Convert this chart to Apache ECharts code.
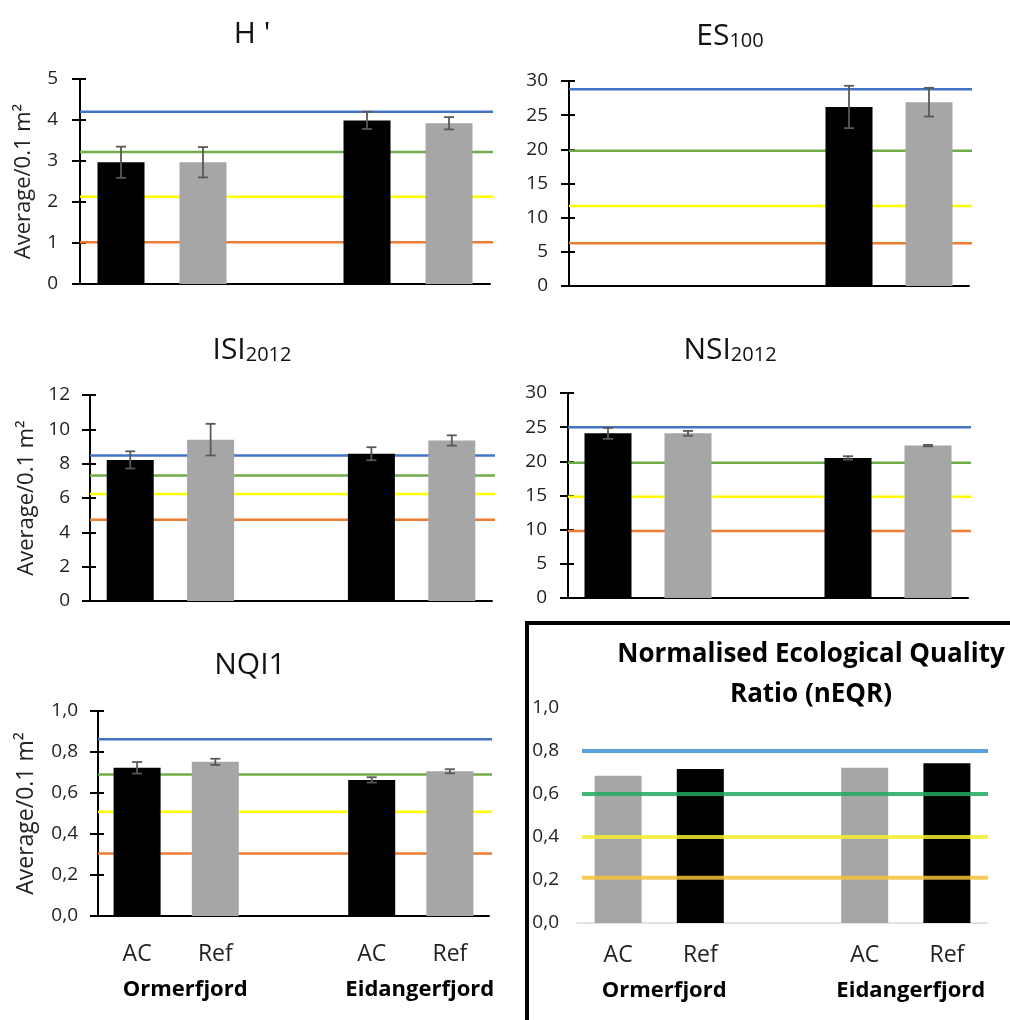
<!DOCTYPE html>
<html>
<head>
<meta charset="utf-8">
<script src="https://cdn.jsdelivr.net/npm/echarts@6/dist/echarts.min.js"></script>
<style>
html, body { margin: 0; padding: 0; background: #fff; }
#main { width: 1010px; height: 1020px; }
</style>
</head>
<body>
<div id="main"></div>
<script>
// categories
const sites = ['AC', 'Ref', '', 'AC', 'Ref'];
const fjords = ['', 'Ormerfjord', '', '', 'Eidangerfjord', ''];

// H'
const hMean = [2.97, 2.97, null, 3.99, 3.92];
const hErr = [0.38, 0.37, null, 0.21, 0.15];
const hLimits = [4.2, 3.22, 2.13, 1.02];

// ES100
const esMean = [null, null, null, 26.2, 26.9];
const esErr = [null, null, null, 3.1, 2.1];
const esLimits = [28.8, 19.8, 11.7, 6.25];

// ISI2012
const isiMean = [8.22, 9.4, null, 8.58, 9.35];
const isiErr = [0.5, 0.92, null, 0.38, 0.3];
const isiLimits = [8.48, 7.31, 6.24, 4.73];

// NSI2012
const nsiMean = [24.1, 24.1, null, 20.5, 22.3];
const nsiErr = [0.8, 0.35, null, 0.25, 0.1];
const nsiLimits = [25.0, 19.8, 14.8, 9.8];

// NQI1
const nqiMean = [0.723, 0.752, null, 0.664, 0.706];
const nqiErr = [0.028, 0.015, null, 0.013, 0.01];
const nqiLimits = [0.862, 0.69, 0.508, 0.305];

// nEQR
const neqrMean = [0.685, 0.716, null, 0.722, 0.743];
const neqrLimits = [0.8, 0.6, 0.4, 0.21];

// y axis ticks
const yMax = [5, 30, 12, 30, 1, 1];
const yStep = [1, 5, 2, 5, 0.2, 0.2];
const yName = 'Average/0.1 m²';

const panels = [
  { title: "{m|H '}", mean: hMean, err: hErr, limits: hLimits },
  { title: '{m|ES}{s|100}', mean: esMean, err: esErr, limits: esLimits },
  { title: '{m|ISI}{s|2012}', mean: isiMean, err: isiErr, limits: isiLimits },
  { title: '{m|NSI}{s|2012}', mean: nsiMean, err: nsiErr, limits: nsiLimits },
  { title: '{m|NQI1}', mean: nqiMean, err: nqiErr, limits: nqiLimits },
  { title: 'Normalised Ecological Quality\nRatio (nEQR)', mean: neqrMean, err: null, limits: neqrLimits }
];

const FONT = 'Open Sans';
const grids = [
  { left: 80, top: 79, width: 410, height: 205 },
  { left: 569, top: 81, width: 400, height: 205 },
  { left: 90, top: 395, width: 402, height: 206 },
  { left: 568, top: 393, width: 400, height: 205 },
  { left: 98, top: 711, width: 391, height: 205 },
  { left: 577, top: 708, width: 411, height: 215 }
];
const titlePos = [[247, 8], [725, 10], [247, 324], [725, 324], [245, 639], [806, 630]];
const labelMargin = [22, 21, 20, 21, 20, 18];
const nameGap = [45, 0, 52, 0, 60, 0];
const limitColors = ['#4472c4', '#70ad47', '#ffff00', '#ed7d31'];
const neqrColors = ['#3d8fd6', '#1faa5c', '#f2ef30', '#f3c13a'];
const BLACK = '#000';
const GREY = '#a6a6a6';

const chart = echarts.init(document.getElementById('main'), null, { renderer: 'canvas' });

const title = [], xAxis = [], yAxis = [], series = [];

const comma = v => v.toFixed(1).replace('.', ',');

panels.forEach((p, i) => {
  const last = i === 5;
  const bottom = i >= 4;
  const colors = last ? neqrColors : limitColors;

  title.push({
    text: p.title,
    left: titlePos[i][0],
    top: titlePos[i][1],
    textAlign: 'center',
    textStyle: last ? {
      fontFamily: FONT, fontSize: 26, fontWeight: 'bold', color: '#000', lineHeight: 40
    } : {
      fontFamily: FONT, fontWeight: 'normal',
      rich: {
        m: { fontFamily: FONT, fontWeight: 'normal', fontSize: 30, color: '#111', lineHeight: 36, verticalAlign: 'bottom' },
        s: { fontFamily: FONT, fontWeight: 'normal', fontSize: 20, color: '#111', lineHeight: 30, verticalAlign: 'bottom' }
      }
    }
  });

  const xi = xAxis.length;
  xAxis.push({
    type: 'category', gridIndex: i, position: 'bottom', data: sites,
    axisLine: { lineStyle: { color: last ? '#d9d9d9' : '#000', width: last ? 1.5 : 2 } },
    axisTick: { show: false },
    axisLabel: { show: bottom, interval: 0, fontFamily: FONT, fontSize: 23, color: '#222', margin: i === 4 ? 27 : 21 }
  });
  if (bottom) {
    xAxis.push({
      type: 'category', gridIndex: i, position: 'bottom', boundaryGap: false, data: fjords,
      axisLine: { show: false }, axisTick: { show: false },
      axisLabel: {
        interval: 0, fontFamily: FONT, fontWeight: 'bold', fontSize: 22, color: '#000',
        margin: i === 4 ? 63 : 57, padding: [0, 0, 0, i === 4 ? 18 : 10]
      }
    });
  }

  const yi = yAxis.length;
  yAxis.push({
    type: 'value', gridIndex: i, position: 'left', min: 0, max: yMax[i], interval: yStep[i],
    name: nameGap[i] ? yName : '',
    nameLocation: 'middle', nameRotate: 90, nameGap: nameGap[i],
    nameTextStyle: { fontFamily: FONT, fontSize: i === 4 ? 23 : 22, color: '#222' },
    splitLine: { show: false },
    axisLine: { show: !last, lineStyle: { color: '#000', width: 2 } },
    axisTick: { show: !last, length: 8, lineStyle: { color: '#000', width: 2 } },
    axisLabel: {
      fontFamily: FONT, fontSize: 19, color: '#222', margin: labelMargin[i],
      formatter: bottom ? comma : null
    }
  });
  if (!last) {
    // inner half of the crossing tick marks
    yAxis.push({
      type: 'value', gridIndex: i, min: 0, max: yMax[i], interval: yStep[i], position: 'left',
      splitLine: { show: false }, axisLine: { show: false }, axisLabel: { show: false },
      axisTick: { show: true, inside: true, length: 6, lineStyle: { color: '#000', width: 2 } }
    });
  }

  series.push({
    type: 'custom', xAxisIndex: xi, yAxisIndex: yi, silent: true, z: last ? 5 : 1,
    data: p.limits.map((v, k) => [0, v, k]),
    encode: { x: 0, y: 1 },
    renderItem: (params, api) => {
      const cs = params.coordSys;
      const y = api.coord([0, api.value(1)])[1];
      return {
        type: 'line',
        shape: { x1: cs.x + (last ? 5 : 0), y1: y, x2: cs.x + cs.width + (last ? 0 : 3), y2: y },
        style: { stroke: colors[api.value(2)], lineWidth: last ? 4 : 2.5, opacity: last ? 0.85 : 1 }
      };
    }
  });

  series.push({
    type: 'bar', xAxisIndex: xi, yAxisIndex: yi, z: 2, barWidth: 47,
    data: p.mean,
    itemStyle: {
      color: params => {
        const ac = sites[params.dataIndex] === 'AC';
        return last ? (ac ? GREY : BLACK) : (ac ? BLACK : GREY);
      }
    }
  });

  if (p.err) {
    const errData = p.mean
      .map((m, k) => (m == null ? null : [k, m, p.err[k]]))
      .filter(d => d);
    series.push({
      type: 'custom', xAxisIndex: xi, yAxisIndex: yi, silent: true, z: 3,
      data: errData,
      encode: { x: 0, y: 1 },
      renderItem: (params, api) => {
        const k = api.value(0), m = api.value(1), e = api.value(2);
        const hi = api.coord([k, m + e]);
        const lo = api.coord([k, m - e]);
        const st = { stroke: '#595959', lineWidth: 1.8 };
        return {
          type: 'group',
          children: [
            { type: 'line', shape: { x1: hi[0], y1: hi[1], x2: lo[0], y2: lo[1] }, style: st },
            { type: 'line', shape: { x1: hi[0] - 5, y1: hi[1], x2: hi[0] + 5, y2: hi[1] }, style: st },
            { type: 'line', shape: { x1: lo[0] - 5, y1: lo[1], x2: lo[0] + 5, y2: lo[1] }, style: st }
          ]
        };
      }
    });
  }
});

chart.setOption({
  animation: false,
  backgroundColor: '#fff',
  title: title,
  grid: grids,
  xAxis: xAxis,
  yAxis: yAxis,
  series: series,
  graphic: [{
    type: 'rect',
    shape: { x: 527, y: 623, width: 490, height: 400 },
    style: { fill: 'none', stroke: '#000', lineWidth: 4 },
    silent: true
  }]
});

window.onresize = function () {
  chart.resize();
};
</script>
</body>
</html>
